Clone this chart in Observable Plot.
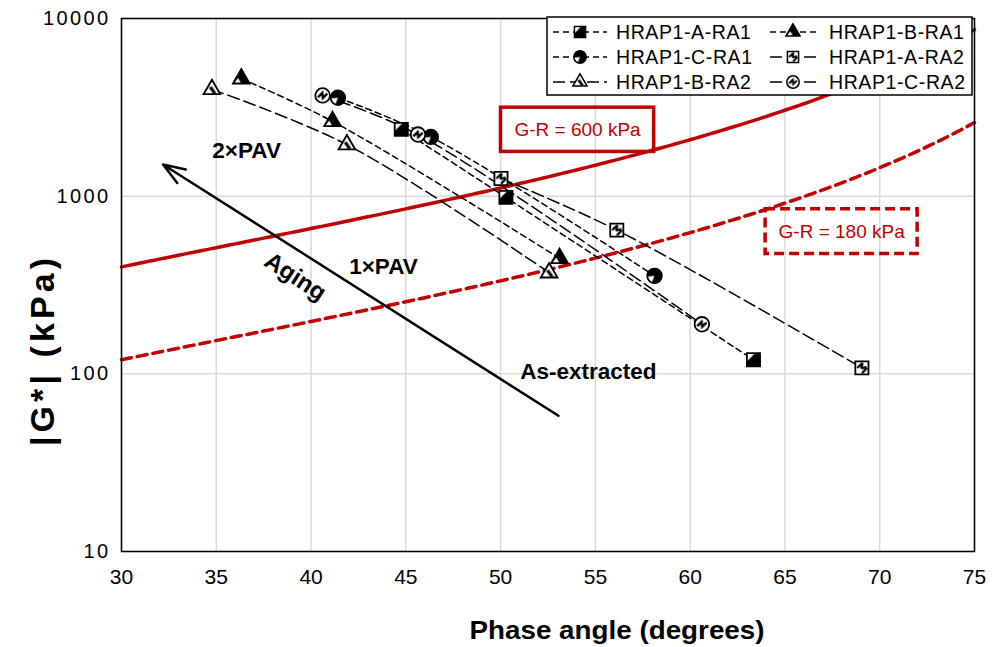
<!DOCTYPE html>
<html>
<head>
<meta charset="utf-8">
<script src="https://cdn.jsdelivr.net/npm/d3@7"></script>
<script src="https://cdn.jsdelivr.net/npm/@observablehq/plot@0.6"></script>
<style>
  body { margin: 0; background: #fff; }
  #chart { position: relative; width: 1002px; height: 647px; font-family: "Liberation Sans", Arial, sans-serif; }
  #chart > svg { position: absolute; left: 0; top: 0; }
  #overlay { pointer-events: none; }
</style>
</head>
<body>
<svg width="0" height="0" style="position:absolute">
  <defs>
    <!-- marker fill patterns, in marker bounding-box units -->
    <pattern id="pA1" patternContentUnits="objectBoundingBox" width="1" height="1">
      <rect width="1" height="1" fill="#000"/>
      <polygon points="0,0 0.62,0 0,0.62" fill="#fff"/>
      <polygon points="0.2,0.55 0.55,0.2 0.62,0.3 0.3,0.62" fill="#000"/>
    </pattern>
    <pattern id="pA2" patternContentUnits="objectBoundingBox" width="1" height="1">
      <rect width="1" height="1" fill="#fff"/>
      <path d="M0.15,0.5 L0.55,0.12 M0.55,0.12 L0.45,0.55 M0.45,0.55 L0.85,0.42 M0.5,0.9 L0.9,0.5" stroke="#000" stroke-width="0.17" fill="none"/>
    </pattern>
    <pattern id="pB1" patternContentUnits="objectBoundingBox" width="1" height="1">
      <rect width="1" height="1" fill="#000"/>
      <polygon points="0.05,1 0.5,1 0.3,0.62" fill="#fff"/>
    </pattern>
    <pattern id="pB2" patternContentUnits="objectBoundingBox" width="1" height="1">
      <rect width="1" height="1" fill="#fff"/>
      <path d="M0.4,0.5 L0.68,0.95" stroke="#000" stroke-width="0.2" fill="none"/>
    </pattern>
    <pattern id="pC1" patternContentUnits="objectBoundingBox" width="1" height="1">
      <rect width="1" height="1" fill="#000"/>
      <polygon points="0,0.55 0.5,0.5 0.3,1 0,1" fill="#fff"/>
    </pattern>
    <pattern id="pC2" patternContentUnits="objectBoundingBox" width="1" height="1">
      <rect width="1" height="1" fill="#fff"/>
      <path d="M0.18,0.62 L0.48,0.32 L0.52,0.68 L0.82,0.38" stroke="#000" stroke-width="0.16" fill="none"/>
    </pattern>
  </defs>
</svg>
<div id="chart"></div>
<script>
// Binder G*-δ (Black space) data: phase angle in degrees, |G*| in kPa.
// Each series runs 2×PAV → 1×PAV → as-extracted.
const seriesNames = ["HRAP1-A-RA1", "HRAP1-B-RA1", "HRAP1-C-RA1", "HRAP1-A-RA2", "HRAP1-B-RA2", "HRAP1-C-RA2"];

const phaseA1 = [44.76, 50.28, 63.34];
const modulusA1 = [2377, 984, 120];
const phaseB1 = [36.32, 41.13, 53.11];
const modulusB1 = [4584, 2637, 447];
const phaseC1 = [41.42, 46.32, 58.12];
const modulusC1 = [3581, 2155, 356];
const phaseA2 = [50.02, 56.13, 69.06];
const modulusA2 = [1257, 644, 108];
const phaseB2 = [34.77, 41.89, 52.56];
const modulusB2 = [3990, 1950, 371];
const phaseC2 = [40.61, 45.64, 60.62];
const modulusC2 = [3690, 2222, 190];

const xTicks = [30, 35, 40, 45, 50, 55, 60, 65, 70, 75];
const yTicks = [10, 100, 1000, 10000];

// Glover-Rowan damage onset / cracking limits (kPa)
const grLevels = [600, 180];
const grLabels = ["G-R = 600 kPa", "G-R = 180 kPa"];

const RED = "#C00000";
const SHORT_DASH = "6,4";
const LONG_DASH = "12,5";

const styles = [
  {phase: phaseA1, modulus: modulusA1, symbol: "square",   pattern: "pA1", dash: SHORT_DASH},
  {phase: phaseB1, modulus: modulusB1, symbol: "triangle", pattern: "pB1", dash: SHORT_DASH},
  {phase: phaseC1, modulus: modulusC1, symbol: "circle",   pattern: "pC1", dash: SHORT_DASH},
  {phase: phaseA2, modulus: modulusA2, symbol: "square",   pattern: "pA2", dash: LONG_DASH},
  {phase: phaseB2, modulus: modulusB2, symbol: "triangle", pattern: "pB2", dash: LONG_DASH},
  {phase: phaseC2, modulus: modulusC2, symbol: "circle",   pattern: "pC2", dash: LONG_DASH}
];
const symbolR = {square: 7.4, triangle: 6.2, circle: 7.3};

const series = seriesNames.map((name, i) => ({
  name, ...styles[i],
  points: styles[i].phase.map((p, j) => ({name, phase: p, modulus: styles[i].modulus[j]}))
}));

// G-R = |G*| cos²δ / sin δ  →  |G*| = G-R · sin δ / cos² δ
const rad = Math.PI / 180;
const grCurves = grLevels.map(level =>
  d3.range(30, 75.0001, 0.25).map(delta => ({
    level, delta,
    modulus: level * Math.sin(delta * rad) / Math.cos(delta * rad) ** 2
  }))
);

const plot = Plot.plot({
  width: 1002,
  height: 647,
  marginLeft: 121,
  marginRight: 28,
  marginTop: 18,
  marginBottom: 96,
  style: {fontFamily: '"Liberation Sans", Arial, sans-serif', color: "#000", background: "transparent"},
  x: {domain: [30, 75]},
  y: {type: "log", domain: [10, 10000]},
  marks: [
    Plot.gridX(xTicks, {stroke: "#d9d9d9", strokeOpacity: 1, strokeWidth: 1.5}),
    Plot.gridY(yTicks, {stroke: "#d9d9d9", strokeOpacity: 1, strokeWidth: 1.5}),
    // G-R limit curves
    Plot.line(grCurves[0], {x: "delta", y: "modulus", stroke: RED, strokeWidth: 3.5}),
    Plot.line(grCurves[1], {x: "delta", y: "modulus", stroke: RED, strokeWidth: 3.5, strokeDasharray: "10,6"}),
    // series lines
    ...series.map(s => Plot.line(s.points, {
      x: "phase", y: "modulus", stroke: "#000", strokeWidth: 1.5,
      strokeDasharray: s.dash, curve: "catmull-rom"
    })),
    // series markers
    ...series.map(s => Plot.dot(s.points, {
      x: "phase", y: "modulus", symbol: s.symbol, r: symbolR[s.symbol],
      fill: `url(#${s.pattern})`, stroke: "#000", strokeWidth: 1.8
    })),
    // G-R label boxes
    Plot.rect([{x1: 50.02, x2: 58.1, y1: 1774, y2: 3148}], {
      x1: "x1", x2: "x2", y1: "y1", y2: "y2", fill: "none", stroke: RED, strokeWidth: 3.5
    }),
    Plot.rect([{x1: 63.98, x2: 72.0, y1: 472, y2: 845}], {
      x1: "x1", x2: "x2", y1: "y1", y2: "y2", fill: "none", stroke: RED, strokeWidth: 3.5, strokeDasharray: "10,5"
    }),
    Plot.text([{x: 54.06, y: 2366, t: grLabels[0]}], {x: "x", y: "y", text: "t", fill: RED, fontSize: 19}),
    Plot.text([{x: 67.99, y: 632, t: grLabels[1]}], {x: "x", y: "y", text: "t", fill: RED, fontSize: 19}),
    // aging direction
    Plot.arrow([{x1: 53.05, y1: 58.1, x2: 32.19, y2: 1507}], {
      x1: "x1", y1: "y1", x2: "x2", y2: "y2", stroke: "#000", strokeWidth: 2.5,
      headLength: 14, headAngle: 40
    }),
    Plot.text([{x: 39.17, y: 352, t: "Aging"}], {x: "x", y: "y", text: "t", rotate: 33, fontSize: 24, fontWeight: "bold"}),
    Plot.text([
      {x: 36.6, y: 1797, t: "2×PAV"},
      {x: 43.82, y: 401, t: "1×PAV"}
    ], {x: "x", y: "y", text: "t", fontSize: 22.5, fontWeight: "bold"}),
    Plot.text([{x: 51.03, y: 102.6, t: "As-extracted"}], {x: "x", y: "y", text: "t", textAnchor: "start", fontSize: 22.5, fontWeight: "bold"}),
    Plot.frame({stroke: "#000", strokeWidth: 1.5}),
    Plot.axisX(xTicks, {tickSize: 0, tickPadding: 18, fontSize: 21, label: null}),
    Plot.axisY(yTicks, {tickSize: 0, tickPadding: 11, fontSize: 20, label: null, tickFormat: d => String(d)})
  ]
});

const chart = document.getElementById("chart");
chart.appendChild(plot);
d3.select(plot).selectAll('[aria-label="y-axis tick label"] text').style("letter-spacing", "2.4px");

// Overlay: axis titles and legend
const ov = d3.select(chart).append("svg")
  .attr("id", "overlay")
  .attr("width", 1002).attr("height", 647)
  .style("font-family", '"Liberation Sans", Arial, sans-serif');

ov.append("text")
  .attr("x", 617).attr("y", 639)
  .attr("text-anchor", "middle")
  .attr("font-weight", "bold").attr("font-size", 26)
  .attr("textLength", 295).attr("lengthAdjust", "spacingAndGlyphs")
  .text("Phase angle (degrees)");

ov.append("text")
  .attr("transform", "translate(54,352) rotate(-90)")
  .attr("text-anchor", "middle")
  .attr("font-weight", "bold").attr("font-size", 34)
  .attr("textLength", 188).attr("lengthAdjust", "spacing")
  .text("|G*|  (kPa)");

// legend
const lg = ov.append("g").attr("transform", "translate(547,17)");
lg.append("rect").attr("width", 425).attr("height", 78)
  .attr("fill", "#fff").attr("stroke", "#000").attr("stroke-width", 1.5);

const cols = [{x0: 6, x1: 60, mx: 33, tx: 69}, {x0: 223, x1: 273, mx: 246, tx: 282}];
const rowsY = [15, 40, 65];
const symbolType = {square: d3.symbolSquare, triangle: d3.symbolTriangle, circle: d3.symbolCircle};
series.forEach((s, i) => {
  const c = cols[i % 2], y = rowsY[Math.floor(i / 2)];
  const g = lg.append("g");
  g.append("line").attr("x1", c.x0).attr("x2", c.x1).attr("y1", y).attr("y2", y)
    .attr("stroke", "#000").attr("stroke-width", 1.5).attr("stroke-dasharray", s.dash);
  const r = symbolR[s.symbol] * 0.85;
  g.append("path")
    .attr("d", d3.symbol(symbolType[s.symbol], Math.PI * r * r)())
    .attr("transform", `translate(${c.mx},${y})`)
    .attr("fill", `url(#${s.pattern})`).attr("stroke", "#000").attr("stroke-width", 1.5);
  g.append("text").attr("x", c.tx).attr("y", y).attr("dy", "0.35em")
    .attr("font-size", 19.5).attr("letter-spacing", "0.6px")
    .text(s.name);
});
</script>
</body>
</html>
